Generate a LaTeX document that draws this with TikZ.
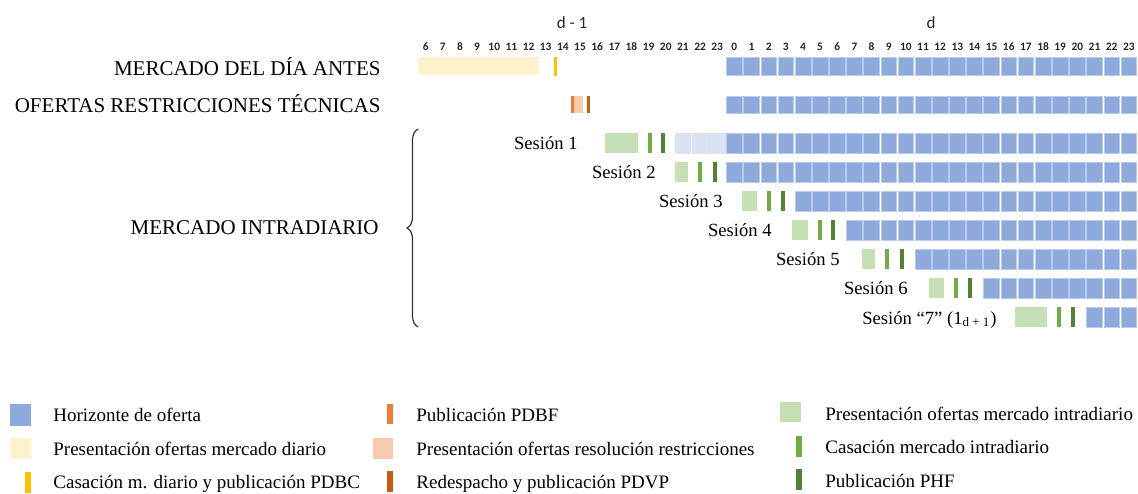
\documentclass[tikz,border=0pt]{standalone}
\usepackage{fontspec}
\setmainfont{Liberation Serif}
\newfontfamily\cifras{Carlito}
\usetikzlibrary{
  decorations.pathreplacing
}
\definecolor{azul}{HTML}{8EA9DB}
\definecolor{azulclaro}{HTML}{DAE3F3}
\definecolor{crema}{HTML}{FFF2CC}
\definecolor{ambar}{HTML}{FFC000}
\definecolor{naranja}{HTML}{ED7D31}
\definecolor{salmon}{HTML}{F8CBAD}
\definecolor{teja}{HTML}{C55A11}
\definecolor{verdeclaro}{HTML}{C5E0B4}
\definecolor{verde}{HTML}{70AD47}
\definecolor{verdeoscuro}{HTML}{548235}
\tikzset{
  titulo/.style={
    font=\fontsize{10.5}{12}\selectfont, anchor=base east, inner sep=0pt
  },
  sesion/.style={
    font=\fontsize{9.3}{11}\selectfont, anchor=base east, inner sep=0pt
  },
  leyenda/.style={
    font=\fontsize{9.5}{11}\selectfont, anchor=base west, inner sep=0pt
  },
  hora/.style={
    font=\cifras\bfseries\fontsize{5.7}{6}\selectfont, anchor=base,
    inner sep=0pt, text=black!85
  },
  dia/.style={
    font=\cifras\fontsize{8.5}{9}\selectfont, anchor=base,
    inner sep=0pt, text=black!85
  },
  celda/.style={fill=azul, draw=azul!60!white, line width=0.3pt},
  pasada/.style={fill=azulclaro, draw=azul!35!white, line width=0.3pt}
}
% #2 top, #3 height, #4 first hour, #5 last hour
\newcommand\celdas[5][celda]{%
  \foreach \q in {#4,...,#5}
    \path[#1] ({726.5+17.15*\q},#2) rectangle ++(15.7,#3);%
}

\begin{document}
\begin{tikzpicture}[x=0.5pt,y=-0.5pt]
\useasboundingbox (0,0) rectangle (1138,493);

% hours
\node[dia] (dmenos) at (572,28) {d - 1};
\node[dia] (dhoy) at (931,28) {d};
\foreach \i in {1,...,42}{
  \pgfmathtruncatemacro\h{mod(\i+5,24)}
  \node[hora] (hora\i) at ({734.35+17.15*(\i-19)},50) {\h};
}

% mercado diario
\node[titulo] (diario) at (381,75) {MERCADO DEL DÍA ANTES};
\fill[crema] (418,57) rectangle (539,75);
\fill[ambar] (553.5,57) rectangle (556.5,76);
\celdas{57}{18}{0}{23}

% restricciones
\node[titulo] (restric) at (381,112) {OFERTAS RESTRICCIONES TÉCNICAS};
\fill[naranja] (570.5,96) rectangle (573.5,113);
\fill[salmon] (573.5,96) rectangle (582.5,113);
\fill[teja] (587,96) rectangle (590,113);
\celdas{96}{17.5}{0}{23}

% intradiario
\node[titulo] (intra) at (379,234) {MERCADO INTRADIARIO};
\draw[line width=0.6pt, black!80, decorate,
  decoration={brace, amplitude=5.5pt}] (418,327) -- (418,129);
\foreach \n/\e/\ga/\gb/\la/\lb/\p in {
  1/578/605/638/648/661/0, 2/656/675/688/698/713/0,
  3/723/742/757/767/781/4, 4/772/792/808/818/831/7,
  5/840/862/875/885/900/11, 6/908/929/944/954/968/15}{
  \pgfmathsetmacro\t{133+29*(\n-1)}
  \node[sesion] (ses\n) at (\e,\t+16.5) {Sesión \n};
  \fill[verdeclaro] (\ga,\t) rectangle (\gb,\t+20);
  \fill[verde] (\la,\t) rectangle (\la+3.5,\t+20);
  \fill[verdeoscuro] (\lb,\t) rectangle (\lb+3.5,\t+20);
  \celdas{\t}{20}{\p}{23}
}
\celdas[pasada]{133}{20}{-3}{-1}
\node[sesion] (ses7) at (997,324)
  {Sesión “7” (1\textsubscript{d + 1})};
\fill[verdeclaro] (1015,307) rectangle (1047,327);
\fill[verde] (1057,307) rectangle (1060.5,327);
\fill[verdeoscuro] (1071,307) rectangle (1074.5,327);
\celdas{307}{20}{21}{23}

% legend
\fill[azul] (10,404) rectangle (31,426);
\node[leyenda] (leg1) at (53,421) {Horizonte de oferta};
\fill[crema] (10,438) rectangle (31,459);
\node[leyenda] (leg2) at (53,455) {Presentación ofertas mercado diario};
\fill[ambar] (24.5,472) rectangle (30.5,493);
\node[leyenda] (leg3) at (53,488) {Casación m. diario y publicación PDBC};
\fill[naranja] (387,404) rectangle (393,424);
\node[leyenda] (leg4) at (416,421) {Publicación PDBF};
\fill[salmon] (373,438) rectangle (393,459);
\node[leyenda] (leg5) at (416,455) {Presentación ofertas resolución restricciones};
\fill[teja] (387,471) rectangle (393,492);
\node[leyenda] (leg6) at (416,488) {Redespacho y publicación PDVP};
\fill[verdeclaro] (780,402) rectangle (801,422);
\node[leyenda] (leg7) at (825,420) {Presentación ofertas mercado intradiario};
\fill[verde] (796,436) rectangle (802,457);
\node[leyenda] (leg8) at (825,453) {Casación mercado intradiario};
\fill[verdeoscuro] (796,469) rectangle (802,490);
\node[leyenda] (leg9) at (825,487) {Publicación PHF};
\end{tikzpicture}
\end{document}
